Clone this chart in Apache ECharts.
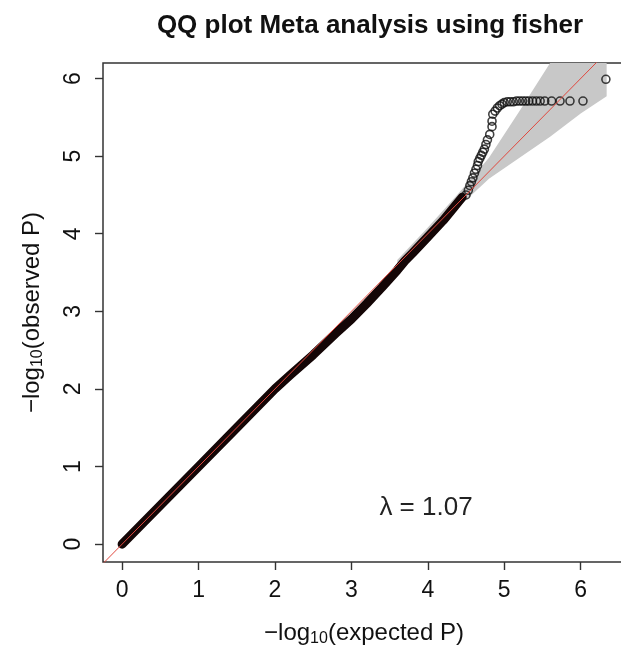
<!DOCTYPE html>
<html>
<head>
<meta charset="utf-8">
<script src="https://cdn.jsdelivr.net/npm/echarts@6/dist/echarts.min.js"></script>
<style>
  html, body { margin: 0; padding: 0; background: #fff; }
  #chart { width: 621px; height: 649px; }
</style>
</head>
<body>
<div id="chart"></div>
<script>
// Tick positions on both axes
const xTicks = [0, 1, 2, 3, 4, 5, 6];
const yTicks = [0, 1, 2, 3, 4, 5, 6];

// Dense body of the QQ cloud (expected, observed), -log10 scale
const denseExpected = [0.00, 0.50, 1.00, 1.50, 2.00, 2.20, 2.50, 2.80, 3.00, 3.20, 3.40, 3.60, 3.70, 3.80, 4.00, 4.20, 4.35, 4.45];
const denseObserved = [0.00, 0.50, 1.00, 1.50, 2.00, 2.18, 2.44, 2.72, 2.90, 3.10, 3.31, 3.53, 3.65, 3.75, 3.96, 4.17, 4.35, 4.47];

// Sparse tail: individual SNPs beyond the dense body
const tailExpected = [4.50, 4.53, 4.55, 4.57, 4.59, 4.61, 4.63, 4.65, 4.66, 4.68, 4.70, 4.72, 4.74, 4.76, 4.78, 4.81, 4.84, 4.84, 4.85, 4.88, 4.91, 4.94, 4.97, 5.00, 5.04, 5.08, 5.12, 5.16, 5.20, 5.24, 5.28, 5.32, 5.37, 5.42, 5.47, 5.53, 5.62, 5.73, 5.86, 6.03, 6.33];
const tailObserved = [4.50, 4.56, 4.62, 4.67, 4.72, 4.78, 4.83, 4.88, 4.93, 4.97, 5.01, 5.05, 5.09, 5.15, 5.21, 5.28, 5.38, 5.45, 5.54, 5.58, 5.62, 5.65, 5.67, 5.69, 5.70, 5.70, 5.70, 5.71, 5.71, 5.71, 5.71, 5.71, 5.71, 5.71, 5.71, 5.71, 5.71, 5.71, 5.71, 5.71, 5.99];

// 95% confidence band around the null expectation
const bandExpected = [3.60, 4.00, 4.40, 4.80, 5.20, 5.60, 6.00, 6.34];
const bandUpper    = [3.66, 4.08, 4.52, 4.98, 5.58, 6.20, 6.80, 7.30];
const bandLower    = [3.55, 3.94, 4.34, 4.71, 4.98, 5.25, 5.55, 5.77];

// Reference line y = x
const refLine = [-1, 8];

const lambdaText = 'λ = 1.07';
const titleText = 'QQ plot Meta analysis using fisher';

const zip = (a, b) => a.map((v, i) => [v, b[i]]);

const chart = echarts.init(document.getElementById('chart'), null, { renderer: 'canvas' });

const axisColor = '#333';
const textColor = '#111';
const fontFam = '"Liberation Sans", Arial, sans-serif';

const nameRich = {
  a: { fontSize: 24, color: textColor, fontFamily: fontFam },
  b: { fontSize: 16, color: textColor, fontFamily: fontFam, padding: [12, 0, 0, 0] }
};

chart.setOption({
  animation: false,
  backgroundColor: '#fff',
  title: {
    text: titleText,
    left: 365,
    top: 8,
    textAlign: 'center',
    textStyle: { fontFamily: fontFam, fontWeight: 'bold', fontSize: 26, color: textColor }
  },
  grid: {
    left: 103, top: 63, width: 522, height: 499,
    outerBoundsMode: 'none',
    containLabel: false,
    show: true, borderColor: axisColor, borderWidth: 1.5, backgroundColor: 'transparent'
  },
  xAxis: {
    type: 'value', min: -0.25, max: 6.58,
    splitLine: { show: false },
    axisLine: { show: false, onZero: false },
    axisTick: { show: true, inside: false, length: 8, customValues: xTicks, lineStyle: { color: axisColor, width: 1.4 } },
    axisLabel: { customValues: xTicks, margin: 17, fontSize: 23, color: textColor, fontFamily: fontFam },
    name: '{a|−log}{b|10}{a|(expected P)}',
    nameLocation: 'middle',
    nameGap: 57,
    nameTextStyle: { rich: nameRich }
  },
  yAxis: {
    type: 'value', min: -0.23, max: 6.2,
    splitLine: { show: false },
    axisLine: { show: false, onZero: false },
    axisTick: { show: true, inside: false, length: 8, customValues: yTicks, lineStyle: { color: axisColor, width: 1.4 } },
    axisLabel: { customValues: yTicks, rotate: 90, margin: 18, fontSize: 23, color: textColor, fontFamily: fontFam },
    name: '{a|−log}{b|10}{a|(observed P)}',
    nameLocation: 'middle',
    nameGap: 57,
    nameRotate: 90,
    nameTextStyle: { rich: nameRich }
  },
  graphic: [{
    type: 'text',
    x: 426, y: 508,
    style: { text: lambdaText, fontSize: 26, fill: '#222', fontFamily: fontFam, align: 'center', verticalAlign: 'middle' }
  }],
  series: [
    {
      // confidence band polygon
      type: 'custom',
      clip: true,
      data: [0],
      silent: true,
      z: 1,
      renderItem: function (params, api) {
        const pts = [];
        for (let i = 0; i < bandExpected.length; i++) pts.push(api.coord([bandExpected[i], bandUpper[i]]));
        for (let i = bandExpected.length - 1; i >= 0; i--) pts.push(api.coord([bandExpected[i], bandLower[i]]));
        return { type: 'polygon', shape: { points: pts }, style: { fill: '#c8c8c8', stroke: null } };
      }
    },
    {
      type: 'line',
      data: zip(denseExpected, denseObserved),
      symbol: 'none',
      z: 2,
      lineStyle: { color: '#140606', width: 9, cap: 'round', join: 'round' }
    },
    {
      type: 'scatter',
      data: zip(tailExpected, tailObserved),
      symbol: 'circle',
      symbolSize: 8,
      z: 3,
      itemStyle: { color: 'rgba(0,0,0,0)', borderColor: '#111', borderWidth: 1.6 }
    },
    {
      type: 'line',
      data: zip(refLine, refLine),
      symbol: 'none',
      clip: true,
      z: 4,
      lineStyle: { color: '#e0483e', width: 1 }
    }
  ]
});
</script>
</body>
</html>
